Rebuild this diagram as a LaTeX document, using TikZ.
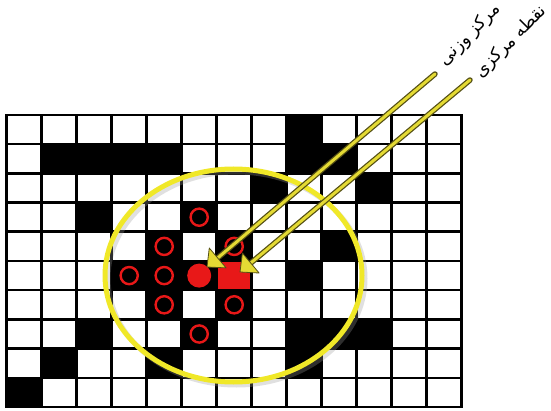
\documentclass[tikz,border=0pt]{standalone}
\usepackage{fontspec}
\usetikzlibrary{calc}
\newfontfamily\arabicfont[Script=Arabic]{DejaVu Sans}
\TeXXeTstate=1
\definecolor{ellyellow}{RGB}{240,232,40}
\definecolor{arryellow}{RGB}{228,218,52}
\definecolor{arrolive}{RGB}{85,80,20}
\definecolor{cellred}{RGB}{232,24,24}
\tikzset{
  gridline/.style={line width=2.6pt, black, line cap=rect},
  ring/.style={draw=cellred, line width=2.4pt},
  shaftouter/.style={arrolive, line width=5.5pt, line cap=round, shorten >=10pt},
  shaftinner/.style={arryellow, line width=3pt, line cap=round, shorten >=10pt},
  arrhead/.style={draw=arrolive, line width=0.8pt, fill=arryellow, line join=round},
  farsi/.style={font=\arabicfont\fontsize{17.5}{19}\selectfont, inner sep=0pt, rotate=45}
}
\begin{document}
\begin{tikzpicture}[x=1pt,y=-1pt]
\useasboundingbox (0,0) rectangle (551,411);
\fill[white] (0,0) rectangle (551,411);
\def\gx{6.7}\def\gy{115}\def\cw{35}\def\ch{29.2}
% black cells
\foreach \c/\r in {8/0, 1/1,2/1,3/1,4/1,8/1,9/1, 7/2,10/2, 2/3,5/3, 4/4,6/4,9/4,
  3/5,4/5,5/5,8/5, 4/6,6/6, 2/7,5/7,8/7,9/7,10/7, 1/8,4/8,8/8, 0/9}
  \fill[black] ({\gx+\cw*\c},{\gy+\ch*\r}) rectangle ++(\cw,\ch);
% red square
\fill[cellred] ({\gx+\cw*6},{\gy+\ch*5}) rectangle ++(\cw,\ch);
% grid
\foreach \c in {0,...,13}
  \draw[gridline] ({\gx+\cw*\c},\gy) -- ({\gx+\cw*\c},{\gy+\ch*10});
\foreach \r in {0,...,10}
  \draw[gridline] (\gx,{\gy+\ch*\r}) -- ({\gx+\cw*13},{\gy+\ch*\r});
% rings
\foreach \c/\r in {5/3,4/4,6/4,3/5,4/5,4/6,6/6,5/7}
  \draw[ring] ({\gx+\cw*(\c+0.5)},{\gy+\ch*(\r+0.5)}) circle (8.6pt);
% filled dot
\fill[cellred] ({\gx+\cw*5.5},{\gy+\ch*5.5}) circle (12pt);
% ellipse with shadow
\draw[black!40, opacity=0.3, line width=5pt] (236.5,278.5) ellipse [x radius=128.5pt, y radius=106.5pt];
\draw[ellyellow, line width=5pt] (233.5,275.5) ellipse [x radius=128.5pt, y radius=106.5pt];
% arrows
\coordinate (s1) at (435,74); \coordinate (t1) at (207,267);
\coordinate (s2) at (470,80); \coordinate (t2) at (240,272);
\foreach \s/\t in {s1/t1, s2/t2}{
  \draw[shaftouter] (\s) -- (\t);
  \draw[shaftinner] (\s) -- (\t);
  \coordinate (b) at ($(\t)!14pt!(\s)$);
  \draw[arrhead] (\t) -- ($(b)!13pt!90:(\s)$) -- ($(b)!13pt!-90:(\s)$) -- cycle;
}
% labels
\node[farsi] (lab1) at (470,35) {\beginR مرکز وزنی\endR};
\node[farsi] (lab2) at (511,42) {\beginR نقطه مرکزی\endR};
\end{tikzpicture}
\end{document}
